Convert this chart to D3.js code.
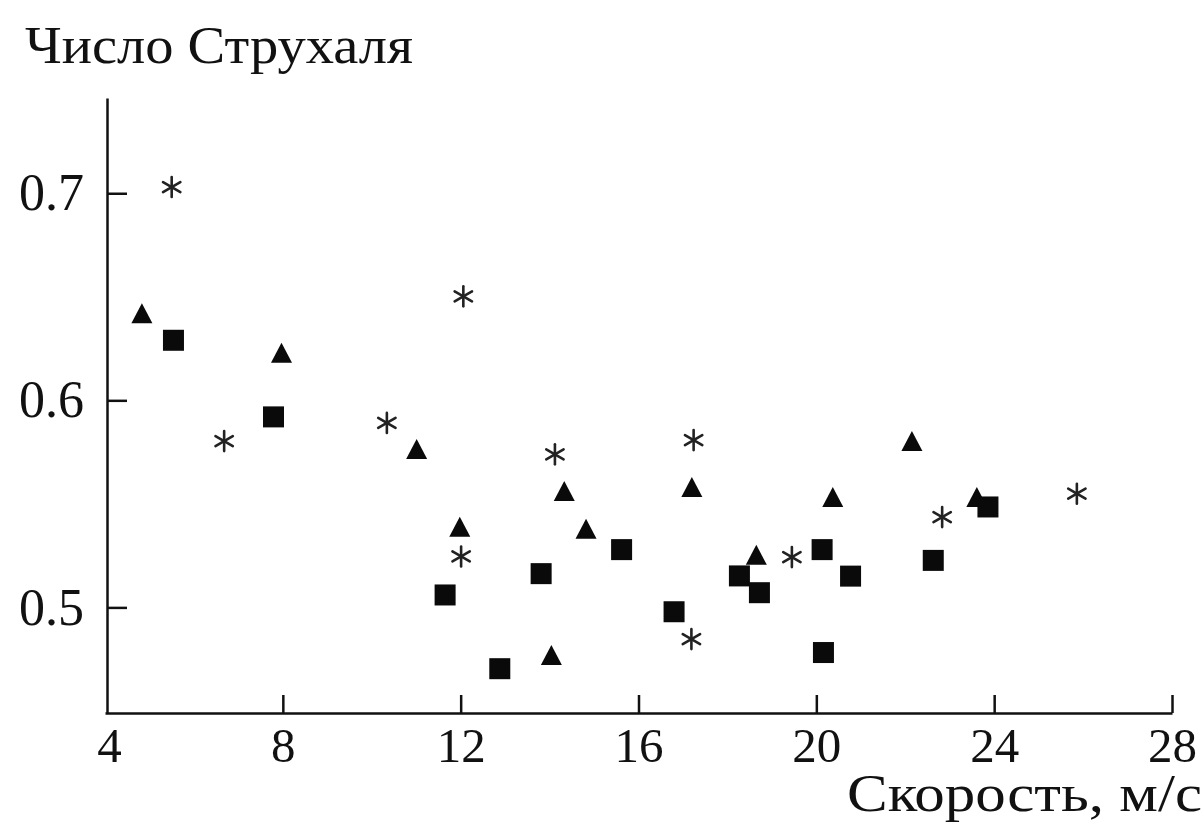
<!DOCTYPE html>
<html>
<head>
<meta charset="utf-8">
<script src="https://cdn.jsdelivr.net/npm/d3@7"></script>
<style>
  html, body { margin: 0; padding: 0; background: #fff; }
  svg { display: block; }
</style>
</head>
<body>
<div id="chart"></div>
<script>
// triangles
const triangleX = [4.83, 7.97, 11.01, 11.98, 14.33, 14.82, 14.04, 17.2, 18.65, 20.37, 22.15, 23.61];
const triangleY = [0.642, 0.623, 0.5765, 0.539, 0.5562, 0.538, 0.477, 0.5582, 0.5254, 0.5533, 0.5804, 0.5533];

// squares
const squareX = [5.54, 7.79, 11.65, 12.88, 13.81, 15.62, 16.8, 18.27, 18.72, 20.13, 20.16, 20.77, 22.63, 23.86];
const squareY = [0.629, 0.592, 0.506, 0.4704, 0.5163, 0.5279, 0.4979, 0.5152, 0.5071, 0.5279, 0.4782, 0.5151, 0.5227, 0.5485];

// asterisks
const starX = [5.5, 6.68, 10.34, 12.06, 12.01, 14.12, 17.24, 17.19, 19.45, 22.83, 25.86];
const starY = [0.703, 0.5803, 0.5891, 0.6502, 0.5246, 0.5739, 0.5808, 0.4847, 0.5243, 0.5436, 0.5549];

const xTicks = [4, 8, 12, 16, 20, 24, 28];
const yTicks = [0.5, 0.6, 0.7];
const yTickLabels = ['0.5', '0.6', '0.7'];
const yTitle = 'Число Струхаля';
const xTitle = 'Скорость, м/с';

const width = 1204;
const height = 827;
const font = '"Liberation Serif", "DejaVu Serif", serif';

const svg = d3
  .select('#chart')
  .append('svg')
  .attr('width', width)
  .attr('height', height);

const x = d3.scaleLinear().domain([4, 28]).range([105, 1172]);
const y = d3.scaleLinear().domain([0.449, 0.746]).range([713, 98]);

// x axis, ticks pointing up into the plot
const xAxis = svg
  .append('g')
  .attr('transform', `translate(0, ${y(0.449)})`)
  .call(d3.axisBottom(x).tickValues(xTicks).tickSizeInner(-18).tickSizeOuter(0).tickPadding(14).tickFormat(d3.format('d')));

xAxis.select('.domain').attr('stroke', '#111').attr('stroke-width', 2.5);
xAxis.selectAll('.tick line').attr('stroke', '#111').attr('stroke-width', 2.5);
xAxis.selectAll('.tick').filter((d) => d === 4).select('line').remove();
xAxis
  .selectAll('text')
  .attr('fill', '#111')
  .style('font-family', font)
  .style('font-size', '49px');
xAxis.selectAll('.tick').filter((d) => d === 4).select('text').attr('dx', 4);

// y axis, ticks pointing right
const yAxis = svg
  .append('g')
  .attr('transform', `translate(${x(4) + 2}, 0)`)
  .call(
    d3
      .axisLeft(y)
      .tickValues(yTicks)
      .tickSizeInner(-20)
      .tickSizeOuter(0)
      .tickPadding(23)
      .tickFormat((d, i) => yTickLabels[i])
  );

yAxis.select('.domain').attr('stroke', '#111').attr('stroke-width', 2.5);
yAxis.selectAll('.tick line').attr('stroke', '#111').attr('stroke-width', 2.5);
yAxis
  .selectAll('text')
  .attr('fill', '#111')
  .style('font-family', font)
  .style('font-size', '52px');

svg
  .append('text')
  .attr('x', 25)
  .attr('y', 63)
  .attr('fill', '#111')
  .attr('textLength', 388)
  .attr('lengthAdjust', 'spacingAndGlyphs')
  .style('font-family', font)
  .style('font-size', '53px')
  .text(yTitle);

svg
  .append('text')
  .attr('x', 847)
  .attr('y', 811)
  .attr('fill', '#111')
  .attr('textLength', 355)
  .attr('lengthAdjust', 'spacingAndGlyphs')
  .style('font-family', font)
  .style('font-size', '52px')
  .text(xTitle);

const marks = svg.append('g');

// squares
const sq = 21;
marks
  .selectAll('rect.sq')
  .data(squareX.map((v, i) => [v, squareY[i]]))
  .join('rect')
  .attr('class', 'sq')
  .attr('x', (d) => x(d[0]) - sq / 2)
  .attr('y', (d) => y(d[1]) - sq / 2)
  .attr('width', sq)
  .attr('height', sq)
  .attr('fill', '#0a0a0a');

// triangles
const tw = 21;
const th = 20;
marks
  .selectAll('path.tri')
  .data(triangleX.map((v, i) => [v, triangleY[i]]))
  .join('path')
  .attr('class', 'tri')
  .attr('d', (d) => {
    const cx = x(d[0]);
    const cy = y(d[1]);
    return `M${cx},${cy - th / 2}L${cx + tw / 2},${cy + th / 2}L${cx - tw / 2},${cy + th / 2}Z`;
  })
  .attr('fill', '#0a0a0a');

// asterisks: six arms
const r = 10;
const angles = [90, 30, 150];
const stars = marks
  .selectAll('g.star')
  .data(starX.map((v, i) => [v, starY[i]]))
  .join('g')
  .attr('class', 'star')
  .attr('transform', (d) => `translate(${x(d[0])}, ${y(d[1])})`);

stars
  .selectAll('line')
  .data(angles)
  .join('line')
  .attr('x1', (a) => -r * Math.cos((a * Math.PI) / 180))
  .attr('y1', (a) => -r * Math.sin((a * Math.PI) / 180))
  .attr('x2', (a) => r * Math.cos((a * Math.PI) / 180))
  .attr('y2', (a) => r * Math.sin((a * Math.PI) / 180))
  .attr('stroke', '#222')
  .attr('stroke-width', 2.6)
  .attr('stroke-linecap', 'round');
</script>
</body>
</html>
